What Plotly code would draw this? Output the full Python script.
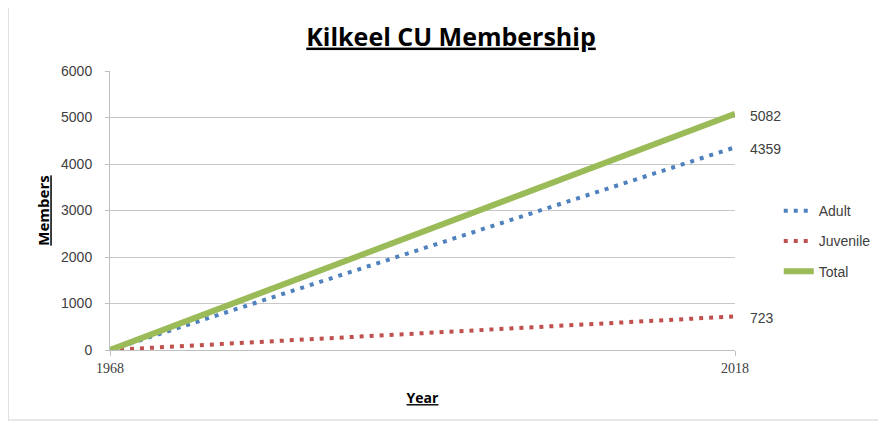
import plotly.graph_objects as go

years = [1968, 2018]
adult = [0, 4359]
juvenile = [0, 723]
total = [0, 5082]
y_ticks = [0, 1000, 2000, 3000, 4000, 5000, 6000]

colors = {"Adult": "#4F81BD", "Juvenile": "#C0504D", "Total": "#9BBB59"}

fig = go.Figure()
fig.add_trace(go.Scatter(x=years, y=adult, name="Adult", mode="lines", legendgroup="a",
                         line=dict(color=colors["Adult"], width=4, dash="4px,6px"), cliponaxis=False))
fig.add_trace(go.Scatter(x=years, y=juvenile, name="Juvenile", mode="lines", legendgroup="j",
                         line=dict(color=colors["Juvenile"], width=4, dash="4px,6px"), cliponaxis=False))
fig.add_trace(go.Scatter(x=years, y=total, name="Total", mode="lines", legendgroup="t",
                         line=dict(color=colors["Total"], width=6), cliponaxis=False))

for series in (total, adult, juvenile):
    fig.add_annotation(x=years[-1], y=series[-1], text=str(series[-1]), showarrow=False,
                       xanchor="left", xshift=13, yshift=-2,
                       font=dict(family="Liberation Sans", size=14, color="#404040"))

fig.update_layout(
    width=886, height=424,
    margin=dict(l=102, r=159, t=63, b=82),
    paper_bgcolor="white", plot_bgcolor="white",
    title=dict(text="<b><u>Kilkeel CU Membership</u></b>", x=0.5, xanchor="center",
               y=0.932, yanchor="middle",
               font=dict(family="Open Sans", size=25, color="black")),
    legend=dict(x=1.07, y=0.555, xanchor="left", yanchor="top", tracegroupgap=9,
                font=dict(family="Liberation Sans", size=14, color="#404040"),
                bgcolor="rgba(0,0,0,0)"),
    showlegend=True,
)
fig.update_xaxes(range=[years[0], years[-1]], tickvals=years, ticktext=[str(y) for y in years],
                 showgrid=False, showline=True, linecolor="#bfbfbf", linewidth=1,
                 ticks="outside", ticklen=5, tickcolor="#bfbfbf",
                 tickfont=dict(family="Liberation Serif", size=14, color="#404040"),
                 title=dict(text="<b><u>Year</u></b>", standoff=18,
                            font=dict(family="Open Sans", size=14, color="black")),
                 zeroline=False)
fig.update_yaxes(range=[0, 6000], tickvals=y_ticks, showgrid=True, gridcolor="#c8c8c8",
                 showline=True, linecolor="#bfbfbf", ticks="outside", ticklen=4, tickcolor="#bfbfbf",
                 ticklabelstandoff=10,
                 tickfont=dict(family="Liberation Sans", size=14, color="#404040"),
                 title=dict(text="<b><u>Members</u></b>", standoff=7,
                            font=dict(family="Open Sans", size=15, color="black")),
                 zeroline=False)

# chart frame
fig.add_shape(type="rect", xref="paper", yref="paper",
              x0=-0.163, x1=1.236, y0=-0.251, y1=1.237,
              line=dict(color="#d0d0d0", width=1), layer="below")

fig.write_html("out.html")
